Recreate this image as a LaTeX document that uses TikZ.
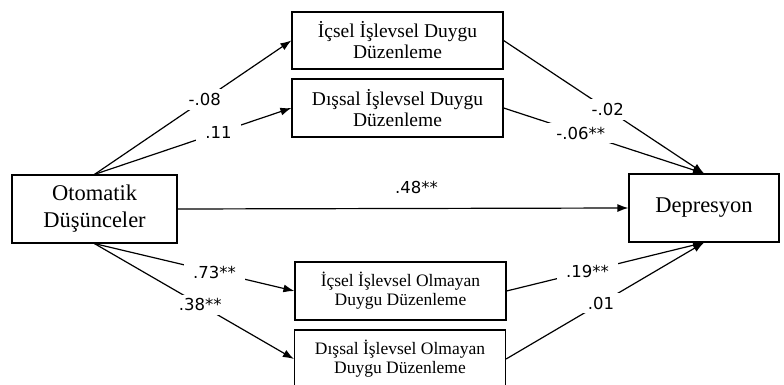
\documentclass[tikz,border=0pt]{standalone}
\usepackage{fontspec}
\setmainfont{Liberation Serif}
\newfontfamily\numfont{DejaVu Sans}
\usetikzlibrary{arrows.meta}

\begin{document}
\begin{tikzpicture}[x=1pt, y=-1pt,
	box/.style = {shape=rectangle, draw, line width=1.2pt, align=center,
	inner sep=0pt, minimum width=211pt, minimum height=58pt},
	bigtext/.style = {font=\fontsize{22.5}{27}\selectfont},
	midtext/.style = {font=\fontsize{19.5}{21}\selectfont},
	smalltext/.style = {font=\fontsize{17.5}{19}\selectfont},
	coef/.style = {fill=white, inner xsep=9pt, inner ysep=4pt,
	font=\numfont\fontsize{16.5}{16.5}\selectfont},
	link/.style = {line width=1.2pt, -{Latex[length=11pt,width=8pt]}},
	]
	\useasboundingbox (0,0) rectangle (784,385);

	\node[box, bigtext, minimum width=165pt, minimum height=68pt] (oto) at (94.5,209) {Otomatik\\Düşünceler};
	\node[box, bigtext, minimum width=150pt, minimum height=68pt] (dep) at (704,208) {Depresyon};
	\node[box, midtext, minimum height=57pt] (icfun) at (397.5,40.5) {İçsel İşlevsel Duygu\\Düzenleme};
	\node[box, midtext] (disfun) at (397.5,108) {Dışsal İşlevsel Duygu\\Düzenleme};
	\node[box, smalltext] (icdys) at (400.5,291) {İçsel İşlevsel Olmayan\\Duygu Düzenleme};
	\node[box, smalltext] (disdys) at (400,359) {Dışsal İşlevsel Olmayan\\Duygu Düzenleme};

	\draw[link] (oto.north) -- node[coef, pos=.56]{-.08} (icfun.west);
	\draw[link] (oto.north) -- node[coef, pos=.63]{.11} (disfun.west);
	\draw[link] (icfun.east) -- node[coef, pos=.52]{-.02} (dep.north);
	\draw[link] (disfun.east) -- node[coef, pos=.385]{-.06**} (dep.north);
	\draw[link] (oto.east) -- node[coef, pos=.53, above=10pt]{.48**} (dep.west);
	\draw[link] (oto.south) -- node[coef, pos=.6]{.73**} (icdys.west);
	\draw[link] (oto.south) -- node[coef, pos=.53]{.38**} (disdys.west);
	\draw[link] (icdys.east) -- node[coef, pos=.41]{.19**} (dep.south);
	\draw[link] (disdys.east) -- node[coef, pos=.48]{.01} (dep.south);
\end{tikzpicture}
\end{document}
